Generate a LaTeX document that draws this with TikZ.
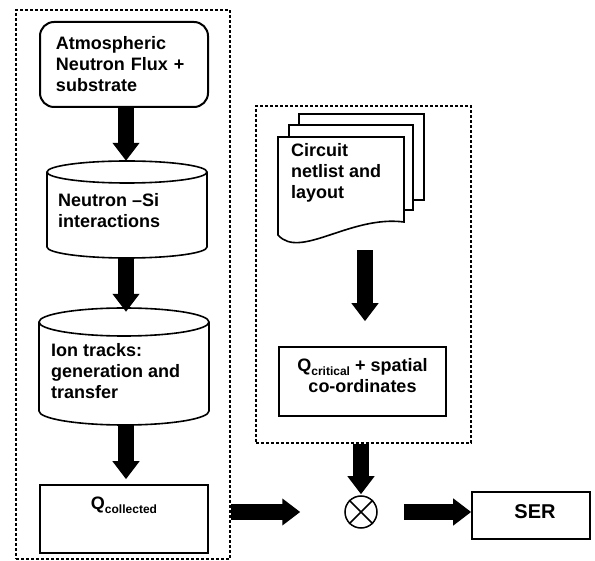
\documentclass[tikz,border=0pt]{standalone}
\usepackage{fontspec}
\setmainfont{Liberation Sans}
\usetikzlibrary{arrows.meta}
\tikzset{
  lbl/.style={font=\fontsize{18}{21}\selectfont\bfseries, inner sep=0pt, align=left},
  outline/.style={draw=black, line width=1.6pt, fill=white},
  plainbox/.style={draw=black, line width=1.6pt, fill=white, inner sep=0pt},
  groupbox/.style={draw=black, line width=2.6pt, dash pattern=on 2.6pt off 2.4pt, inner sep=0pt},
  bigarrow/.style={line width=16pt, -{Triangle[width=26pt,length=18pt]}},
}
\newcommand{\subtext}[1]{\raisebox{-0.22em}{\fontsize{12}{12}\selectfont #1}}
\begin{document}
\begin{tikzpicture}[x=1pt,y=-1pt]
\useasboundingbox (0,0) rectangle (595,561);

% dotted group frames
\node[groupbox, minimum width=214pt, minimum height=549pt] (leftgrp) at (123,284.5) {};
\node[groupbox, minimum width=215pt, minimum height=337pt] (rightgrp) at (363.5,274.5) {};

% neutron flux source
\node[lbl, draw, line width=2pt, rounded corners=14pt, text width=136pt, inner xsep=16pt,
      minimum height=85pt] (flux) at (124,64.5)
  {Atmospheric\\Neutron Flux +\\substrate};

% cylinder: neutron-Si interactions
\draw[outline] (47,172) -- (47,247) arc[start angle=180, end angle=0, x radius=80, y radius=11] -- (207,172);
\draw[outline] (127,172) ellipse[x radius=80, y radius=11];
\node[inner sep=0pt, minimum width=160pt, minimum height=97pt] (nsi) at (127,209.5) {};
\node[lbl, anchor=west] at (58,210.5) {Neutron --Si\\interactions};

% cylinder: ion tracks
\draw[outline] (39,322) -- (39,411) arc[start angle=180, end angle=0, x radius=85, y radius=14] -- (209,322);
\draw[outline] (124,322) ellipse[x radius=85, y radius=14];
\node[inner sep=0pt, minimum width=170pt, minimum height=117pt] (ion) at (124,366.5) {};
\node[lbl, anchor=west] at (51,371.5) {Ion tracks:\\generation and\\transfer};

% collected charge
\node[plainbox, minimum width=168pt, minimum height=68pt] (qcol) at (124,519) {};
\node[lbl] at (124,505) {Q\subtext{collected}};

% stacked documents: circuit netlist and layout
\draw[outline] (299,114) rectangle (424,200);
\draw[outline] (289,125) rectangle (413,210);
\draw[outline] (278,235) -- (278,137) -- (404,137) -- (404,222)
  .. controls (350,215) and (300,260) .. cycle;
\node[inner sep=0pt, minimum width=146pt, minimum height=129pt] (doc) at (351,178.5) {};
\node[lbl, anchor=west] at (291,172.5) {Circuit\\netlist and\\layout};

% critical charge
\node[plainbox, minimum width=167pt, minimum height=69pt] (qcrit) at (362.5,381.5) {};
\node[lbl, align=center] at (362.5,376) {Q\subtext{critical} + spatial\\co-ordinates};

% combining operator
\node[draw, circle, line width=1.5pt, minimum size=32pt, inner sep=0pt] (ot) at (361,512) {};
\draw[line width=1.5pt] (ot.north west) -- (ot.south east) (ot.north east) -- (ot.south west);

% result
\node[plainbox, minimum width=118pt, minimum height=47pt] (ser) at (531,515.5) {};
\node[font=\fontsize{20}{24}\selectfont\bfseries, inner sep=0pt] at (535,512) {SER};

% flow arrows
\draw[bigarrow] (flux.south -| 126,0) -- (nsi.north -| 126,0);
\draw[bigarrow, shorten >=-4pt] (nsi.south -| 126,0) -- (ion.north -| 126,0);
\draw[bigarrow, shorten >=5pt] (ion.south -| 126,0) -- (qcol.north -| 126,0);
\draw[bigarrow, shorten <=7pt, shorten >=25pt] (doc.south -| 365,0) -- (qcrit.north -| 365,0);
\draw[bigarrow, shorten >=1pt] (rightgrp.south -| ot) -- (ot.north);
\draw[bigarrow, shorten >=44pt] (leftgrp.east |- ot) -- (ot.west);
\draw[bigarrow, shorten <=26pt] (ot.east) -- (ot.east -| ser.west);
\end{tikzpicture}
\end{document}
